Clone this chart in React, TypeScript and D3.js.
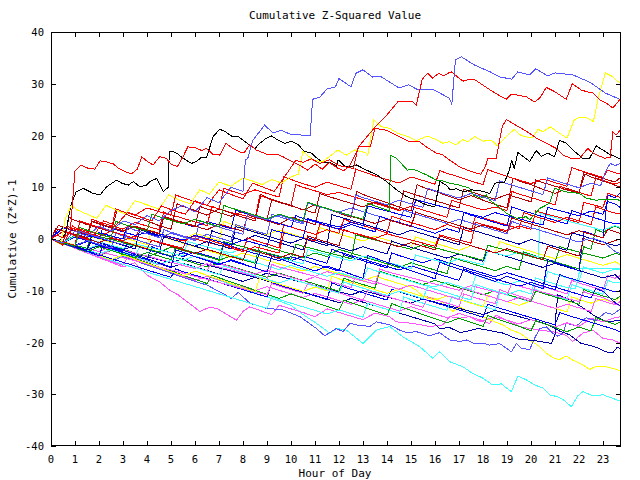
import React from "react";
import * as d3 from "d3";

// ---- axis ticks ----
const xTickValues = d3.range(0, 24);
const yTickValues = [-40, -30, -20, -10, 0, 10, 20, 30, 40];
const xDomain = [0, 23.75];
const yDomain = [-40, 40];

// ---- series: flat [hour, value, hour, value, ...] ----
const redTop = [0,0, 0.25,0.8, 0.5,0.2, 0.8,1.2, 1.0,13.2, 1.25,14.3, 1.53,13.7, 1.83,13.5, 2.04,15.1, 2.3,14.9, 2.6,14.5, 2.8,13.7, 3.1,13.0, 3.35,12.6, 3.6,13.5, 3.78,15.9, 4.04,14.9, 4.25,14.3, 4.53,15.9, 4.8,15.6, 5.02,14.4, 5.27,14.0, 5.5,15.9, 5.7,17.8, 6.0,17.7, 6.27,17.1, 6.48,17.5, 6.74,16.4, 7.03,16.2, 7.29,18.5, 7.58,17.5, 7.87,16.8, 8.05,16.7, 8.28,18.2, 8.55,17.2, 8.98,16.4, 9.4,16.4, 9.66,15.9, 10.07,14.9, 10.45,14.0, 10.7,13.3, 11.0,14.5, 11.3,13.5, 11.6,14.8, 11.9,13.8, 12.2,13.2, 12.45,14.2, 12.86,18.1, 13.5,21.6, 13.98,23.9, 14.45,26.5, 15.07,26.5, 15.22,25.9, 15.47,30.9, 15.7,32.0, 15.9,31.1, 16.15,32.0, 16.36,31.5, 16.57,32.1, 16.68,32.3, 16.89,31.5, 17.17,30.5, 17.44,30.9, 17.65,30.8, 17.98,29.8, 18.4,28.5, 18.76,27.5, 18.97,27.0, 19.18,28.0, 19.44,27.8, 19.8,27.5, 20.15,26.5, 20.36,27.2, 20.64,29.3, 20.98,28.5, 21.47,27.0, 21.72,30.0, 22.09,28.8, 22.3,28.5, 22.58,28.2, 22.86,26.9, 23.13,26.3, 23.41,25.3, 23.75,27.2];
const lightBlueTop = [0,0, 0.5,-0.8, 1,1.5, 1.5,0.5, 2,2.5, 2.5,1.5, 3,3.5, 3.5,2.8, 4,4.5, 4.5,3.5, 5,5.5, 5.5,6.5, 6,5.2, 6.5,8, 7,7, 7.5,10, 8,9.2, 8.1,15.3, 8.2,15.6, 8.4,19, 8.9,22, 9.25,20.5, 9.6,21, 10,20.2, 10.8,20, 10.9,27, 11.2,27.4, 11.5,29, 11.85,29.4, 12,31, 12.5,29.4, 12.7,32, 13,32.7, 13.4,31.3, 13.7,31.5, 14.5,29.2, 14.9,29.8, 15.3,28.8, 15.9,28.9, 16.2,28.2, 16.6,27.2, 16.7,26, 16.85,34.6, 17.1,35.2, 17.65,33.6, 18.3,32.3, 18.7,31.3, 19.2,30.9, 19.45,32.3, 19.95,31.7, 20.2,32.9, 20.7,31.5, 21,32.1, 21.75,31.7, 22.45,30.3, 23.1,28.2, 23.75,26.9];
const redSecond = [0,0, 0.5,-1.2, 0.9,2.5, 1.3,1.5, 1.8,0.8, 2.2,3.5, 2.7,2.6, 3.2,5.2, 3.7,4.3, 4.2,3.5, 4.6,6.4, 5.1,5.5, 5.6,4.8, 6.0,7.4, 6.5,6.5, 7.0,9.5, 7.5,8.6, 8.0,7.8, 8.4,10.8, 8.9,9.9, 9.3,9.2, 9.8,12.5, 10.2,15.2, 10.5,14.8, 10.85,15.5, 11.2,14.6, 11.6,15.3, 12.0,14.2, 12.3,13.9, 12.6,13.6, 12.8,17.8, 13.3,17.8, 13.5,21.4, 13.98,21, 14.4,20, 14.95,18.8, 15.36,18.8, 15.64,17.8, 16.05,16.6, 16.3,16.3, 16.6,15.3, 17.0,14.0, 17.4,13.2, 17.9,12.5, 18.1,14, 18.2,15.6, 18.55,15.6, 18.8,21.7, 18.97,23.1, 19.25,22.3, 19.6,21.4, 19.95,20.4, 20.22,19.5, 20.64,18.5, 21.05,17.5, 21.33,16.2, 21.67,15.6, 22.03,15.6, 22.37,17.5, 22.58,16.6, 23.06,15.6, 23.3,15.8, 23.41,20.7, 23.55,20.1, 23.75,21.2];
const yellowTop = [0,0, 0.4,-1, 0.6,4, 0.85,6.5, 1.1,5.6, 1.5,4.8, 1.9,4, 2.3,6.5, 2.7,5.6, 3.1,4.8, 3.5,7.4, 4,6.6, 4.5,5.8, 4.9,8.5, 5.3,7.6, 5.8,6.8, 6.2,9.5, 6.6,8.7, 7.0,11, 7.5,10.2, 8.0,11.8, 8.4,11.2, 8.8,10.5, 9.2,11.5, 9.6,10.8, 10.0,12.0, 10.3,12.5, 10.5,16.9, 10.9,15.3, 11.3,14.9, 11.6,15.9, 11.95,17.2, 12.3,16.2, 12.65,17.2, 13.1,16.7, 13.2,16.2, 13.45,23, 13.77,21.7, 14.1,21.4, 14.46,20.4, 14.87,19.8, 15.22,19, 15.43,19.4, 15.7,19.9, 16.05,19.2, 16.33,18.5, 16.6,18.8, 16.88,18.2, 17.15,19.2, 17.37,18.8, 17.65,19.8, 18.0,18.9, 18.35,19.1, 18.6,18, 18.9,19.5, 19.3,21.2, 19.58,20, 20.04,19.5, 20.3,21.2, 20.5,20.7, 20.8,21.7, 21.2,20.4, 21.5,19.5, 21.8,23, 22.0,23.5, 22.3,23.5, 22.6,22.7, 22.8,27.2, 23.1,32.1, 23.4,31.4, 23.6,30.5, 23.75,30.1];
const blackLine = [0,0, 0.3,-0.6, 0.6,1.0, 0.85,6.9, 1.05,9.1, 1.34,9.8, 1.76,8.8, 2.04,8.5, 2.32,10.1, 2.74,11.4, 2.94,10.8, 3.22,10.4, 3.43,11.1, 3.7,10.1, 3.98,10.4, 4.12,11.1, 4.4,11.7, 4.68,9.1, 4.88,10, 4.93,17, 5.02,17, 5.23,16.6, 5.51,15.6, 5.85,14.6, 6.07,15, 6.27,15.8, 6.48,15.8, 6.76,19.8, 7.03,21.2, 7.24,20.8, 7.52,19.9, 7.8,19.8, 8.0,19.1, 8.26,18.2, 8.5,17.5, 8.7,18.5, 8.98,19.5, 9.19,19.9, 9.46,19.1, 9.74,18.5, 10.02,18.9, 10.3,18.2, 10.57,16.9, 10.85,16.6, 11.06,15.7, 11.34,14.7, 11.62,14.8, 11.9,14.1, 11.96,15.3, 12.24,14.1, 12.45,13.9, 12.73,14.3, 13.15,13.3, 13.57,12.4, 13.98,11.1, 14.4,9.5, 14.81,8.2, 15.22,7.5, 15.64,6.6, 15.99,6.2, 16.2,11.1, 16.48,10.4, 16.62,9.5, 16.9,9.7, 17.2,9.1, 17.5,9.5, 17.9,9.3, 18.28,8.8, 18.35,9.5, 18.5,10.8, 18.9,11, 19.1,13.3, 19.2,15.3, 19.3,13.5, 19.45,16.7, 19.95,15, 20.22,17.1, 20.43,16, 20.7,16.6, 20.98,15.9, 21.19,19.1, 21.47,18.5, 21.74,17.2, 22.15,15.6, 22.44,15.6, 22.72,18, 22.99,17.2, 23.27,16.4, 23.75,15.4];
const greenTop = [0,0, 0.5,-0.7, 1,-1.4, 1.2,2.2, 1.5,1.7, 2,1, 2.5,0.3, 2.7,3.4, 3,2.9, 3.5,2.2, 4,1.5, 4.2,4.8, 4.5,4.3, 5,3.6, 5.5,2.9, 6,3.8, 6.5,3.1, 7,2.4, 7.2,6.5, 7.5,6, 8,5.3, 8.5,4.6, 9,3.9, 9.5,4.8, 10,4.1, 10.5,3.4, 10.7,7.1, 11,6.6, 11.5,5.9, 12,5.2, 12.5,4.5, 13,3.8, 13.2,6.9, 13.5,6.4, 14.1,5.4, 14.15,16.2, 14.4,15.6, 14.85,13.3, 15.1,13.5, 15.64,12.4, 16.05,11.4, 16.2,11.4, 16.6,10.8, 17.03,10.4, 17.45,9.8, 17.6,8.5, 17.9,7.9, 18.14,8.5, 18.28,7.5, 18.55,6.6, 18.97,5, 19.39,4, 19.8,4.3, 19.95,3.7, 20.36,5.9, 20.78,6.9, 20.98,9.8, 21.47,9.1, 22.02,8.8, 22.3,7.9, 22.72,7.5, 23.13,7.7, 23.75,7.5];
const red1 = [0,0, 0.5,-0.6, 1,-1.3, 1.2,3.5, 1.5,3, 2,2.3, 2.5,1.6, 2.7,5.8, 3,5.3, 3.5,4.6, 4,6, 4.5,5.3, 5,4.6, 5.2,8.5, 5.5,8, 6,7.2, 6.5,6.5, 7,5.8, 7.2,9.8, 7.5,9.3, 8,8.6, 8.5,9.5, 9,8.8, 9.5,8.1, 9.7,12, 10,11.5, 10.5,10.7, 11,10, 11.5,11, 12,10.3, 12.5,9.6, 12.7,13.5, 13,13, 13.5,12.2, 14,11.5, 14.5,10.8, 15,12, 15.5,11.3, 16,10.6, 16.2,13.2, 16.5,12.7, 17,12, 17.5,11.2, 18,10.5, 18.2,13.4, 18.5,12.9, 19,12.1, 19.5,11.4, 20,10.7, 20.5,11.6, 21,10.9, 21.5,10.2, 21.7,13.8, 22,13.3, 22.5,12.6, 23,11.9, 23.2,13.3, 23.5,12.8, 23.75,12.5];
const darkRed1 = [0,0, 0.5,-0.8, 0.75,4.2, 1,3.6, 1.5,2.8, 2,2.1, 2.5,1.4, 2.75,5.5, 3,5, 3.5,4.1, 4,3.5, 4.5,2.6, 5,1.9, 5.25,6.8, 5.5,6.3, 6,5.5, 6.5,4.6, 7,5.8, 7.5,5, 8,4.2, 8.5,3.5, 8.75,8.6, 9,8, 9.5,7.2, 10,6.5, 10.5,5.6, 11,6.6, 11.5,5.8, 12,5, 12.5,4.2, 12.75,9.2, 13,8.6, 13.5,7.8, 14,7, 14.5,6.2, 15,5.4, 15.25,10.5, 15.5,10, 16,9.2, 16.5,8.4, 17,7.6, 17.5,8.4, 18,7.5, 18.5,6.7, 19,6, 19.25,11.8, 19.5,11.2, 20,10.5, 20.5,9.6, 21,8.8, 21.5,9.8, 22,9, 22.25,12.5, 22.5,12, 23,11.2, 23.5,10.4, 23.75,10];
const red3 = [0,0, 0.5,1.5, 0.7,1.2, 1,0.6, 1.5,-0.1, 1.7,3.8, 2,3.3, 2.5,2.6, 3,1.9, 3.5,3.2, 4,2.5, 4.5,1.8, 4.7,5.2, 5,4.7, 5.5,4, 6,3.3, 6.5,2.6, 6.7,6.3, 7,5.8, 7.5,5.1, 8,4.6, 8.5,3.9, 8.7,8.4, 9,7.9, 9.5,7.1, 10,6.5, 10.2,10.5, 10.5,10, 11,9.3, 11.5,8.6, 12,9, 12.5,8.3, 13,7.6, 13.5,6.9, 14,6.2, 14.5,5.5, 15,6.3, 15.5,5.6, 16,4.9, 16.5,4.2, 16.7,7.5, 17,7, 17.5,6.3, 18,5.6, 18.5,6.2, 19,5.5, 19.2,9.2, 19.5,8.7, 20,8, 20.5,7.3, 21,6.6, 21.2,10.2, 21.5,9.7, 22,9, 22.5,8.3, 22.7,11.8, 23,11.3, 23.5,10.6, 23.75,11];
const blue5 = [0,0, 0.5,2.2, 1,1.5, 1.5,0.8, 2,0.1, 2.2,2.6, 2.5,2.1, 3,1.4, 3.5,0.7, 4,1.2, 4.5,0.5, 4.7,4.2, 5,3.7, 5.5,3, 6,2.3, 6.5,3.4, 7,2.7, 7.5,2, 7.7,5.6, 8,5.1, 8.5,4.4, 9,3.7, 9.5,3, 10,2.3, 10.2,4.5, 10.5,4, 11,3.3, 11.5,2.6, 12,1.9, 12.5,2.8, 13,2.1, 13.5,1.4, 13.7,4.4, 14,3.9, 14.5,3.2, 15,2.5, 15.5,1.8, 16,1.1, 16.5,2, 17,1.3, 17.2,5.1, 17.5,4.6, 18,3.9, 18.5,3.2, 19,2.5, 19.2,6.2, 19.5,5.7, 20,5, 20.5,4.3, 21,3.6, 21.5,2.9, 21.7,5.5, 22,5, 22.5,4.3, 23,3.6, 23.5,2.9, 23.75,3];
const darkRed2 = [0,0, 0.3,2.6, 0.5,2.3, 1,1.6, 1.5,0.9, 1.7,3.5, 2,3, 2.5,2.3, 3,1.6, 3.5,2.5, 4,1.8, 4.5,1.1, 4.7,4.4, 5,3.9, 5.5,3.2, 6,2.5, 6.5,1.8, 7,2.9, 7.5,2.2, 8,1.5, 8.2,4.7, 8.5,4.2, 9,3.5, 9.5,2.8, 10,4.2, 10.5,3.5, 11,2.8, 11.2,6.3, 11.5,5.8, 12,5.1, 12.5,4.4, 13,3.7, 13.5,3, 14,3.8, 14.5,3.1, 15,2.4, 15.2,5.2, 15.5,4.7, 16,4, 16.5,3.3, 17,2.6, 17.5,1.9, 18,2.7, 18.5,2, 19,1.3, 19.2,4.1, 19.5,3.6, 20,2.9, 20.5,2.2, 21,1.5, 21.5,0.8, 22,1.6, 22.5,0.9, 23,0.2, 23.2,1.9, 23.5,1.4, 23.75,1];
const lightBlue7 = [0,0, 0.5,-0.6, 1,-1.3, 1.5,-0.3, 2,-1, 2.5,-1.7, 2.7,1.1, 3,0.6, 3.5,-0.1, 4,-0.8, 4.5,-1.5, 4.7,1.8, 5,1.3, 5.5,0.6, 6,-0.1, 6.5,0.9, 7,0.2, 7.5,-0.5, 7.7,2.8, 8,2.3, 8.5,1.6, 9,0.9, 9.2,4.8, 9.5,4.3, 10,3.6, 10.5,2.9, 10.7,7.1, 11,6.6, 11.5,5.9, 12,5.2, 12.5,6, 13,5.3, 13.5,4.6, 14,3.9, 14.5,3.2, 14.7,5.6, 15,5.1, 15.5,4.4, 16,3.7, 16.5,3, 17,3.8, 17.5,3.1, 18,2.4, 18.5,1.7, 19,1, 19.2,3.4, 19.5,2.9, 20,2.2, 20.5,1.5, 21,0.8, 21.5,0.1, 22,-0.6, 22.5,0.2, 23,-0.5, 23.5,-2.4, 23.75,-2.9];
const red8 = [0,0, 0.5,-0.7, 0.7,2.4, 1,1.9, 1.5,1.2, 2,0.5, 2.5,1.5, 3,0.8, 3.5,0.1, 3.7,2.2, 4,1.7, 4.5,1, 5,0.3, 5.5,-0.4, 6,0.6, 6.5,-0.1, 7,-0.8, 7.5,-1.5, 8,-2.2, 8.2,0.2, 8.5,-0.3, 9,-1, 9.5,-1.7, 9.7,2.8, 10,2.3, 10.5,1.6, 11,0.9, 11.5,1.8, 12,1.1, 12.2,3.8, 12.5,3.3, 13,2.6, 13.5,1.9, 14,1.2, 14.2,4.4, 14.5,3.9, 15,3.2, 15.5,2.5, 16,1.8, 16.5,2.8, 17,2.1, 17.5,1.4, 17.7,4.6, 18,4.1, 18.5,3.4, 19,2.7, 19.5,2, 19.7,5.1, 20,4.6, 20.5,3.9, 21,3.2, 21.5,4.2, 22,3.5, 22.5,2.8, 22.7,6.2, 23,5.7, 23.5,5, 23.75,5];
const navy9 = [0,0, 0.5,-0.8, 1,-1.5, 1.5,-2.2, 1.7,-0.2, 2,-0.7, 2.5,-1.4, 3,-2.1, 3.5,-1.2, 4,-1.9, 4.5,-2.6, 4.7,0.5, 5,0, 5.5,-0.7, 6,-1.4, 6.5,-2.1, 6.7,1.6, 7,1.1, 7.5,0.4, 8,-0.3, 8.5,0.7, 9,0, 9.5,-0.7, 10,-1.4, 10.5,-2.1, 10.7,0.3, 11,-0.2, 11.5,-0.9, 12,-1.6, 12.5,-2.3, 13,-1.5, 13.5,-2.2, 14,-2.9, 14.2,-0.4, 14.5,-0.9, 15,-1.6, 15.5,-2.3, 16,-3, 16.5,-3.7, 17,-2.9, 17.5,-3.6, 18,-4.3, 18.2,-2.2, 18.5,-2.7, 19,-3.4, 19.5,-4.1, 20,-4.8, 20.5,-5.5, 21,-4.7, 21.5,-5.4, 22,-6.1, 22.5,-6.8, 23,-7.5, 23.5,-6.9, 23.75,-8];
const yellow10 = [0,0, 0.5,-0.5, 1,-1.2, 1.2,1.2, 1.5,0.7, 2,0, 2.5,-0.7, 3,0.3, 3.5,-0.4, 4,-1.1, 4.2,1.6, 4.5,1.1, 5,0.4, 5.5,-0.3, 6,1.1, 6.5,0.4, 7,-0.3, 7.2,3.4, 7.5,2.9, 8,2.2, 8.5,1.5, 9,0.8, 9.5,1.7, 10,1, 10.5,0.3, 11,-0.4, 11.2,2.2, 11.5,1.7, 12,1, 12.5,0.3, 13,-0.4, 13.5,0.5, 14,-0.2, 14.5,-0.9, 15,-1.6, 15.2,0.4, 15.5,-0.1, 16,-0.8, 16.5,-1.5, 17,-2.2, 17.5,-1.3, 18,-2, 18.5,-2.7, 18.7,-0.5, 19,-1, 19.5,-1.7, 20,-2.4, 20.5,-3.1, 21,-3.8, 21.5,-3, 22,-3.7, 22.5,-4.4, 23,-5.1, 23.5,-4.4, 23.75,-5];
const green11 = [0,0, 0.5,-0.9, 1,-1.7, 1.5,-2.5, 2,-1.5, 2.5,-2.2, 3,-2.9, 3.5,-3.6, 4,-2.6, 4.5,-3.3, 5,-4, 5.2,-1.5, 5.5,-2, 6,-2.7, 6.5,-3.4, 7,-4.1, 7.5,-3.3, 8,-4, 8.5,-4.7, 8.7,-1, 9,-1.5, 9.5,-2.2, 10,-2.9, 10.5,-3.6, 11,-2.7, 11.5,-3.4, 12,-2, 12.5,-2.7, 13,-3.4, 13.5,-4.1, 14,-4.8, 14.5,-5.5, 15,-4.6, 15.5,-5.3, 16,-6, 16.5,-6.7, 16.7,-3.5, 17,-4, 17.5,-4.7, 18,-5.4, 18.5,-6.1, 19,-5.3, 19.5,-6, 19.7,-2.5, 20,-3, 20.5,-3.7, 21,-4.4, 21.5,-5.1, 22,-5.8, 22.2,-1.5, 22.5,-2, 22.7,1.8, 23,1.3, 23.5,2.5, 23.75,2];
const blue12 = [0,0, 0.5,-0.7, 1,0.4, 1.5,-0.3, 2,-1, 2.5,-1.7, 3,-2.4, 3.2,-0.8, 3.5,-1.3, 4,-2, 4.5,-2.7, 5,-3.4, 5.5,-2.7, 6,-3.4, 6.5,-4.1, 7,-4.8, 7.5,-4.2, 8,-4.9, 8.5,-5.6, 8.7,-2.3, 9,-2.8, 9.5,-3.5, 10,-4.2, 10.5,-3.3, 11,-4, 11.5,-4.7, 11.7,-2, 12,-2.5, 12.5,-3.2, 13,-3.9, 13.5,-4.6, 14,-5.3, 14.5,-6, 15,-5.2, 15.5,-5.9, 16,-6.6, 16.5,-7.3, 17,-8, 17.2,-5.8, 17.5,-6.3, 18,-7, 18.5,-7.7, 19,-8.4, 19.5,-9.1, 20,-8.4, 20.5,-9.1, 21,-9.8, 21.2,-6.9, 21.5,-7.4, 22,-8.1, 22.5,-8.8, 23,-9.5, 23.5,-10.2, 23.75,-10];
const cyan13 = [0,0, 0.5,-0.6, 1,-1.2, 1.5,-1.9, 2,-1.1, 2.5,-1.8, 3,-2.5, 3.5,-3.2, 3.7,-1.5, 4,-2, 4.5,-2.7, 5,-3.4, 5.5,-4.1, 6,-3.3, 6.5,-4, 7,-4.7, 7.2,-2.6, 7.5,-3.1, 8,-3.8, 8.5,-4.5, 9,-5.2, 9.5,-5.9, 10,-5.1, 10.5,-5.8, 11,-6.5, 11.5,-7.2, 12,-6.5, 12.5,-7.2, 13,-7.9, 13.2,-5.6, 13.5,-6.1, 14,-6.8, 14.5,-7.5, 15,-8.2, 15.5,-8.9, 16,-9.2, 16.5,-8.4, 17,-9.1, 17.5,-9.8, 17.7,-7, 18,-7.5, 18.5,-8.2, 19,-8.9, 19.5,-8.1, 20,-8.8, 20.5,-9.5, 20.7,-6.3, 21,-6.8, 21.5,-7.5, 22,-8.2, 22.2,-5.4, 22.5,-5.9, 23,-6.6, 23.5,-5.8, 23.75,-6];
const magenta14 = [0,0, 0.5,-0.8, 1,-1.6, 1.5,-2.4, 2,-3.1, 2.5,-2.2, 3,-2.9, 3.5,-3.6, 4,-4.3, 4.5,-5, 5,-4.1, 5.5,-4.8, 6,-5.5, 6.5,-6.2, 6.7,-4.2, 7,-4.7, 7.5,-5.4, 8,-6.1, 8.5,-6.8, 9,-6, 9.5,-6.7, 10,-7.4, 10.5,-8.1, 11,-7.3, 11.5,-8, 12,-8.7, 12.5,-9.4, 12.7,-7.1, 13,-7.6, 13.5,-8.3, 14,-9, 14.5,-9.7, 15,-8.9, 15.5,-9.6, 16,-10.3, 16.5,-11, 17,-11.7, 17.2,-9.5, 17.5,-10, 18,-10.7, 18.5,-11.4, 19,-12.1, 19.5,-11.3, 20,-12, 20.5,-12.7, 21,-13.4, 21.5,-12.6, 22,-13.3, 22.5,-14, 22.7,-11.5, 23,-12, 23.5,-12.7, 23.75,-12];
const blue15 = [0,0, 0.5,-0.7, 1,-1.4, 1.5,-0.5, 2,-1.2, 2.5,-1.9, 3,-2.6, 3.5,-3.3, 4,-4, 4.2,-1.5, 4.5,-2, 5,-2.7, 5.5,-3.4, 6,-2.5, 6.5,-3.2, 7,-3.9, 7.2,-0.9, 7.5,-1.4, 8,-2.1, 8.5,-2.8, 9,-3.5, 9.5,-4.2, 10,-3.4, 10.5,-4.1, 11,-4.8, 11.5,-5.5, 12,-6.2, 12.2,-3, 12.5,-3.5, 13,-4.2, 13.5,-4.9, 14,-5.6, 14.2,-2.7, 14.5,-3.2, 15,-3.9, 15.5,-4.6, 16,-3.8, 16.5,-4.5, 17,-5.2, 17.5,-5.9, 18,-6.6, 18.5,-7.3, 19,-6.5, 19.5,-7.2, 20,-7.9, 20.5,-8.6, 21,-9.3, 21.5,-10, 22,-10.7, 22.5,-11.4, 22.7,-9.6, 23,-10.1, 23.5,-12.3, 23.75,-13];
const darkRed16 = [0,0, 0.5,1.4, 1,0.7, 1.5,0, 2,-0.7, 2.5,0.2, 3,-0.5, 3.5,-1.2, 4,-1.9, 4.2,-0.2, 4.5,-0.7, 5,-1.4, 5.5,-2.1, 6,-2.8, 6.5,-2, 7,-2.7, 7.5,-3.4, 8,-4.1, 8.2,-1.8, 8.5,-2.3, 9,-3, 9.5,-3.7, 10,-2.8, 10.5,-3.5, 10.7,0.6, 11,0.1, 11.5,-0.6, 12,-1.3, 12.2,1.8, 12.5,1.3, 13,0.6, 13.5,-0.1, 14,-0.8, 14.5,-1.5, 15,-0.7, 15.5,-1.4, 16,-2.1, 16.2,0.6, 16.5,0.1, 17,-0.6, 17.5,-1.3, 18,-2, 18.5,-2.7, 19,-1.9, 19.5,-2.6, 20,-3.3, 20.5,-4, 20.7,-1.4, 21,-1.9, 21.5,-2.6, 22,-3.3, 22.2,0.1, 22.5,-0.4, 23,-1.1, 23.5,-0.3, 23.75,0];
const cyanFlat = [0,0, 0.5,-0.7, 1,-1.4, 1.5,-2.1, 2,-2.8, 2.5,-2.1, 3,-2.8, 3.5,-3.5, 4,-4.2, 4.5,-4.9, 5,-4.1, 5.5,-4.8, 6,-5.5, 6.5,-6.2, 7,-6.9, 7.2,-5.2, 7.5,-5.7, 8,-6.4, 8.5,-7.1, 9,-7.8, 9.5,-8.5, 10,-7.7, 10.5,-8.4, 11,-9.1, 11.5,-9.8, 12,-10.5, 12.2,-8.3, 12.5,-8.8, 13,-9.5, 13.5,-10.2, 14,-10.9, 14.5,-10.1, 15,-10.8, 15.5,-11.5, 15.7,-9.2, 16,-9.7, 16.5,-10.4, 17,-11.1, 17.5,-11.8, 17.7,-8.8, 18,-9.3, 18.5,-10, 19,-10.7, 19.5,-9.9, 20,-10.6, 20.2,-7.5, 20.5,-8, 21,-8.7, 21.5,-9.4, 21.85,-9.6, 22.05,-5.7, 23.75,-5.7];
const magenta18 = [0,0, 0.5,-0.9, 1,-1.8, 1.5,-2.7, 2,-3.5, 2.5,-4.3, 3,-5.1, 3.2,-3.5, 3.5,-4, 4,-4.8, 4.5,-5.6, 5,-6.4, 5.5,-7.2, 6,-8, 6.5,-7.2, 7,-7.9, 7.5,-8.6, 8,-9.3, 8.5,-10, 9,-9.2, 9.5,-9.9, 10,-10.6, 10.5,-11.3, 11,-10.5, 11.5,-11.2, 12,-11.9, 12.5,-12.6, 13,-11.8, 13.5,-12.5, 14,-13.2, 14.5,-13.9, 15,-13.1, 15.5,-13.8, 16,-14.5, 16.5,-15.2, 17,-14.4, 17.5,-15.1, 18,-15.8, 18.5,-15, 19,-15.7, 19.5,-16.4, 20,-15.6, 20.5,-16.3, 21,-17, 21.5,-16.2, 22,-16.9, 22.5,-15.3, 23,-16, 23.5,-15.2, 23.75,-15];
const green19 = [0,0, 0.5,-0.7, 1,0.8, 1.5,0.1, 2,-0.6, 2.5,-1.3, 3,-2, 3.5,-2.7, 4,-3.4, 4.5,-2.6, 5,-3.3, 5.5,-4, 6,-4.7, 6.5,-5.4, 7,-4.6, 7.5,-5.3, 8,-6, 8.5,-6.7, 9,-7.4, 9.5,-6.6, 10,-7.3, 10.5,-8, 11,-8.7, 11.5,-9.4, 12,-10.1, 12.2,-7.6, 12.5,-8.1, 13,-8.8, 13.5,-9.5, 13.7,-6.2, 14,-6.7, 14.5,-7.4, 15,-8.1, 15.5,-8.8, 16,-8, 16.5,-8.7, 17,-9.4, 17.5,-10.1, 18,-10.8, 18.5,-10, 19,-10.7, 19.5,-11.4, 20,-12.1, 20.2,-10, 20.5,-10.5, 21,-11.2, 21.5,-11.9, 22,-12.6, 22.2,-9.8, 22.5,-10.3, 23,-11, 23.5,-11.7, 23.75,-11];
const yellow20 = [0,0, 0.5,-0.8, 1,-1.6, 1.5,-2.4, 2,-3.2, 2.5,-4, 3,-3.1, 3.5,-3.9, 4,-4.7, 4.5,-5.5, 5,-6.3, 5.5,-7.1, 6,-6.2, 6.5,-7, 7,-7.8, 7.5,-8.6, 8,-9.4, 8.5,-10.2, 8.7,-7.5, 9,-8, 9.5,-8.7, 10,-9.4, 10.5,-10.1, 11,-9.3, 11.5,-10, 11.7,-7.2, 12,-7.7, 12.5,-8.4, 13,-9.1, 13.5,-9.8, 14,-10.5, 14.5,-9.7, 15,-10.4, 15.5,-11.1, 16,-11.8, 16.5,-11, 17,-11.7, 17.5,-12.4, 18,-13.1, 18.2,-10.9, 18.5,-11.4, 19,-12.1, 19.5,-12.8, 20,-12, 20.5,-12.7, 21,-13.4, 21.5,-14.1, 21.7,-11.2, 22,-11.7, 22.5,-12.4, 23,-11.6, 23.5,-12.3, 23.75,-10.7];
const navyLow = [0,0, 0.5,-0.7, 1,-1.4, 1.5,-2.1, 2,-1.3, 2.5,-2, 3,-2.7, 3.5,-3.4, 4,-4.1, 4.5,-4.8, 5,-5.5, 5.5,-4.7, 6,-5.4, 6.5,-6.1, 7,-6.8, 7.5,-7.5, 8,-8.2, 8.5,-7.4, 9,-8.1, 9.5,-8.8, 10,-9.5, 10.5,-10.2, 11,-10.9, 11.5,-11.6, 12,-12.3, 12.5,-11.5, 13,-12.2, 13.5,-12.9, 14,-13.6, 14.5,-14.3, 15,-15, 15.5,-15.7, 16,-16.4, 16.2,-17.3, 16.6,-17.1, 17.05,-18.1, 17.35,-17.8, 17.8,-17.3, 18.2,-17.6, 18.85,-18.2, 19.25,-19, 19.5,-19.4, 19.85,-19.5, 20.4,-19.8, 20.85,-20.2, 21.0,-18.5, 21.05,-13.7, 21.12,-10.8, 21.65,-11.8, 22.2,-13.4, 22.6,-14.7, 23.15,-16, 23.75,-15.7];
const lightBlueLow = [0,0, 0.5,-0.9, 1,-1.8, 1.5,-2.7, 2,-3.5, 2.5,-4.3, 3,-3.4, 3.5,-4.2, 4,-5, 4.5,-5.8, 5,-6.6, 5.5,-7.4, 6,-8.2, 6.5,-8.9, 6.9,-9.9, 7.2,-10.6, 7.52,-11.5, 7.8,-10.3, 8.28,-12.4, 8.98,-13.4, 9.67,-13.7, 10.37,-15, 11.06,-17.3, 11.4,-18.7, 11.89,-17.3, 12.17,-17.9, 12.45,-16.3, 12.73,-16.6, 13.28,-16.9, 13.56,-16, 14.11,-16.6, 14.53,-17.6, 14.81,-18.1, 15.22,-17.9, 15.78,-18.7, 16.19,-18.1, 16.61,-19.5, 17.03,-19.8, 17.3,-19.5, 17.65,-20.2, 18,-20.1, 18.28,-20.5, 18.69,-20.2, 18.97,-21.1, 19.18,-21.8, 19.39,-20.2, 19.6,-21.1, 19.94,-21.4, 20.15,-19.2, 20.36,-17.3, 20.64,-17, 20.91,-18.2, 21.12,-18.8, 21.33,-18.2, 21.47,-16.3, 21.9,-16.8, 22.3,-15.2, 22.7,-15.8, 23.1,-14.2, 23.4,-14.6, 23.75,-13.4];
const blue23 = [0,0, 0.5,-0.8, 1,-1.6, 1.5,-2.3, 2,-3, 2.5,-3.8, 3,-4.5, 3.5,-5.2, 4,-6, 4.5,-6.7, 5,-7.4, 5.2,-5.8, 5.5,-6.3, 6,-7, 6.5,-7.7, 7,-8.4, 7.5,-9.1, 8,-9.8, 8.5,-10.5, 9,-11.2, 9.2,-8.4, 9.5,-8.9, 10,-9.6, 10.5,-10.3, 11,-11, 11.5,-11.7, 11.7,-8.5, 12,-9, 12.5,-9.7, 13,-10.4, 13.5,-11.1, 14,-11.8, 14.2,-9.7, 14.5,-10.2, 15,-10.9, 15.5,-11.6, 16,-12.3, 16.5,-13, 17,-13.7, 17.5,-14.4, 18,-15.1, 18.2,-12.6, 18.5,-13.1, 19,-13.8, 19.5,-14.5, 20,-15.2, 20.5,-15.9, 21,-16.6, 21.2,-14.2, 21.5,-14.7, 22,-15.4, 22.5,-16.1, 23,-16.8, 23.5,-17.5, 23.75,-18];
const cyan24 = [0,0, 0.5,-0.9, 1,-1.7, 1.5,-2.5, 2,-3.3, 2.5,-4.1, 3,-4.9, 3.5,-5.6, 4,-6.4, 4.5,-7.1, 5,-7.8, 5.5,-8.5, 6,-9.2, 6.5,-9.9, 7,-10.6, 7.5,-11.3, 8,-12, 8.5,-12.7, 9,-13.4, 9.2,-11.2, 9.5,-11.7, 10,-12.4, 10.5,-13.1, 11,-13.8, 11.5,-14.5, 12,-13.7, 12.5,-14.4, 13,-15.1, 13.2,-12.4, 13.5,-12.9, 14,-13.6, 14.5,-14.3, 14.7,-11.2, 15,-11.7, 15.5,-12.4, 16,-13.1, 16.5,-13.8, 16.7,-11.1, 17,-11.6, 17.5,-12.3, 18,-13, 18.5,-13.7, 18.7,-10.3, 19,-10.8, 19.5,-11.5, 20,-12.2, 20.2,-9.8, 20.5,-10.3, 21,-11, 21.5,-11.7, 21.7,-8.8, 22,-9.3, 22.5,-10, 23,-10.7, 23.2,-8, 23.5,-8.5, 23.75,-8.3];
const magenta25 = [0,0, 0.5,-0.6, 1,-1.2, 1.5,-1.8, 2,-2.4, 2.5,-3, 3,-3.6, 3.5,-4.2, 4,-4.8, 4.5,-5.4, 5,-6, 5.5,-6.6, 6,-7.2, 6.5,-7.8, 7,-8.4, 7.5,-9, 8,-9.6, 8.5,-10.2, 9,-10.8, 9.2,-8.6, 9.5,-9.1, 10,-9.8, 10.5,-10.5, 10.7,-8.5, 11,-9, 11.5,-9.7, 12,-10.4, 12.5,-11.1, 13,-11.8, 13.2,-9.9, 13.5,-10.4, 14,-11.1, 14.5,-11.8, 15,-12.5, 15.5,-13.2, 15.7,-11.2, 16,-11.7, 16.5,-12.4, 17,-13.1, 17.2,-10.6, 17.5,-11.1, 18,-11.8, 18.5,-12.5, 18.7,-9.8, 19,-10.3, 19.5,-11, 20,-11.7, 20.2,-8.7, 20.5,-9.2, 21,-9.9, 21.5,-10.6, 21.7,-8, 22,-8.5, 22.5,-9.2, 23,-9.9, 23.2,-7.1, 23.5,-7.6, 23.75,-7];
const green26 = [0,0, 0.5,-0.8, 1,-1.6, 1.5,-2.4, 2,-3.2, 2.5,-2.2, 3,-3, 3.5,-3.8, 4,-4.6, 4.5,-5.4, 5,-6.2, 5.5,-7, 6,-7.8, 6.5,-8.6, 6.7,-7, 7,-7.5, 7.5,-8.3, 8,-9.1, 8.5,-9.9, 9,-10.7, 9.5,-11.5, 10,-10.6, 10.5,-11.4, 11,-12.2, 11.5,-13, 12,-13.8, 12.2,-11.8, 12.5,-12.3, 13,-13.1, 13.5,-13.9, 14,-14.7, 14.2,-12.5, 14.5,-13, 15,-13.8, 15.5,-14.6, 16,-15.4, 16.5,-16.2, 17,-15.3, 17.5,-16.1, 18,-16.9, 18.2,-14.8, 18.5,-15.3, 19,-16.1, 19.5,-16.9, 20,-17.7, 20.2,-15.8, 20.5,-16.3, 21,-17.1, 21.5,-17.9, 22,-17, 22.5,-17.8, 22.7,-15.2, 23,-15.7, 23.5,-16.5, 23.75,-16];
const red27 = [0,0, 0.5,-0.6, 1,-1.2, 1.2,1.9, 1.5,1.5, 2,0.9, 2.5,0.3, 3,-0.3, 3.5,0.6, 4,0, 4.5,-0.6, 5,-1.2, 5.5,-1.8, 5.7,0.4, 6,0, 6.5,-0.6, 7,-1.2, 7.5,-1.8, 8,-2.4, 8.5,-1.5, 9,-2.1, 9.5,-2.7, 9.7,1.2, 10,0.8, 10.5,0.2, 11,-0.4, 11.2,2.9, 11.5,2.5, 12,1.9, 12.5,1.3, 13,0.7, 13.5,0.1, 14,1, 14.5,0.4, 15,-0.2, 15.5,-0.8, 16,-1.4, 16.2,0.8, 16.5,0.4, 17,-0.2, 17.5,-0.8, 17.7,3.2, 18,2.8, 18.5,2.2, 19,1.6, 19.5,2.5, 20,1.9, 20.2,5.4, 20.5,5, 21,4.4, 21.5,3.8, 22,3.2, 22.2,7.1, 22.5,6.7, 23,6.1, 23.2,8.8, 23.5,8.4, 23.75,8];
const blue28 = [0,0, 0.3,1.8, 0.5,1.5, 1,0.9, 1.5,0.3, 2,1.2, 2.5,0.6, 3,0, 3.2,2.6, 3.5,2.2, 4,1.6, 4.5,1, 5,0.4, 5.5,-0.2, 6,0.7, 6.5,0.1, 7,-0.5, 7.5,-1.1, 8,-0.2, 8.5,-0.8, 9,-1.4, 9.2,1.8, 9.5,1.4, 10,0.8, 10.5,0.2, 10.7,3.9, 11,3.5, 11.5,2.9, 12,2.3, 12.5,3.2, 13,2.6, 13.2,6.4, 13.5,6, 14,5.4, 14.5,4.8, 15,4.2, 15.2,7.6, 15.5,7.2, 16,6.6, 16.5,6, 17,5.4, 17.5,4.8, 18,4.2, 18.5,5.1, 19,4.5, 19.5,3.9, 20,3.3, 20.5,2.7, 20.7,6.1, 21,5.7, 21.5,5.1, 22,4.5, 22.5,5.4, 23,4.8, 23.2,7.2, 23.5,6.8, 23.75,6];
const magenta29 = [0,0, 0.5,-0.6, 1,-1.2, 1.5,-1.8, 2,-2.4, 2.5,-1.5, 3,-2.1, 3.5,-2.7, 4,-3.3, 4.5,-3.9, 5,-4.5, 5.5,-5.1, 6,-5.7, 6.5,-4.8, 7,-5.4, 7.5,-6, 8,-6.6, 8.5,-7.2, 9,-7.8, 9.2,-4.9, 9.5,-5.4, 10,-6, 10.5,-6.6, 11,-7.2, 11.5,-6.3, 12,-6.9, 12.5,-7.5, 13,-8.1, 13.5,-8.7, 13.7,-5.8, 14,-6.3, 14.5,-6.9, 15,-7.5, 15.5,-8.1, 16,-8.7, 16.5,-9.3, 17,-9.9, 17.5,-9, 18,-9.6, 18.5,-10.2, 19,-10.8, 19.2,-8.6, 19.5,-9.1, 20,-9.7, 20.5,-10.3, 21,-10.9, 21.5,-11.5, 22,-12.1, 22.2,-10.2, 22.5,-10.7, 23,-11.3, 23.5,-12.5, 23.75,-13];
const yellowLow = [0,0, 0.5,-0.7, 1,-1.4, 1.5,-2.1, 1.7,1.5, 2,1, 2.5,0.3, 3,-0.4, 3.5,-1.1, 4,-1.8, 4.5,-2.5, 4.7,0.4, 5,-0.1, 5.5,-0.8, 6,-1.5, 6.5,-2.2, 7,-2.9, 7.5,-3.6, 8,-2.7, 8.5,-3.4, 9,-4.1, 9.5,-4.8, 10,-5.5, 10.5,-6.2, 11,-5.3, 11.5,-6, 12,-6.7, 12.5,-7.4, 13,-8.1, 13.5,-7.2, 14,-7.9, 14.5,-8.6, 15,-9.3, 15.22,-9.9, 15.5,-11.1, 16.06,-11.5, 16.33,-12.4, 16.75,-14, 17.03,-13.1, 17.58,-14.4, 18.14,-15.3, 18.48,-16, 18.83,-16.6, 19.18,-17.6, 19.53,-18.2, 19.94,-19.5, 20.36,-20.8, 20.64,-22.1, 20.98,-23.1, 21.19,-23.3, 21.47,-22.6, 21.74,-23.4, 22.16,-24.3, 22.44,-25.2, 22.72,-24.6, 23.06,-24.6, 23.41,-25, 23.75,-25.5];
const cyanLow = [0,0, 0.5,-0.8, 1,-1.6, 1.5,-2.4, 2,-3.2, 2.5,-4, 3,-3.2, 3.5,-4, 4,-4.8, 4.5,-5.6, 5,-6.4, 5.5,-7.2, 6,-8, 6.5,-7.2, 7,-8, 7.5,-8.8, 8,-9.6, 8.5,-10.4, 9,-11.2, 9.5,-12, 10,-12.8, 10.5,-14.6, 11.06,-16.3, 11.62,-18.2, 11.9,-17.3, 12.31,-17.6, 13.0,-20.2, 13.56,-17.6, 14.11,-16.9, 14.66,-18.9, 15.36,-20.8, 15.9,-23, 16.19,-21.8, 16.61,-23.7, 17.17,-24.7, 17.58,-26, 18,-26.9, 18.4,-28.2, 18.76,-28, 19.18,-29.5, 19.45,-26.5, 19.8,-27.2, 20.15,-28.2, 20.5,-28.8, 20.77,-30.1, 21.12,-30.5, 21.33,-31, 21.68,-32.4, 21.95,-30.3, 22.16,-29.5, 22.58,-30.3, 23.0,-30.1, 23.41,-30.8, 23.75,-31.4];
const magentaLow = [0,0, 0.5,-0.9, 1,-1.8, 1.5,-2.7, 2,-3.6, 2.5,-4.5, 3,-5.4, 3.5,-4.6, 4,-7, 4.5,-8.2, 4.95,-9.9, 5.3,-10.8, 5.7,-12.2, 6.2,-14, 6.6,-13.2, 6.9,-13.4, 7.3,-14.5, 7.73,-15.7, 8.0,-14, 8.28,-13.1, 8.7,-13.8, 9.2,-14.6, 9.5,-12.8, 10,-13.5, 10.5,-14.2, 11,-15, 11.5,-13.5, 12,-14.2, 12.5,-14.9, 13,-15.6, 13.5,-14.3, 14.1,-15, 14.38,-16, 15.07,-16.3, 15.78,-16.9, 16.33,-16.6, 16.61,-15, 17.03,-15.3, 17.44,-15, 17.72,-15.7, 18.28,-16.3, 18.55,-14.7, 18.97,-15.7, 19.53,-16.9, 19.94,-17.3, 20.36,-17.6, 20.91,-17.9, 21.47,-18.6, 21.74,-19.8, 22.16,-18.2, 22.58,-17.6, 22.99,-19.2, 23.41,-19.5, 23.75,-20.2];
const navyMid = [0,0, 0.5,-0.6, 1,-1.2, 1.5,-0.4, 2,-1, 2.5,-1.6, 3,-2.2, 3.5,-2.8, 4,-3.4, 4.5,-4, 5,-4.6, 5.5,-3.8, 6,-4.4, 6.5,-5, 7,-5.6, 7.5,-6.2, 8,-6.8, 8.5,-7.4, 9,-6.6, 9.5,-7.2, 10,-7.8, 10.5,-8.4, 11,-9, 11.5,-9.6, 12,-10.2, 12.5,-10.8, 13,-10, 13.5,-10.6, 14,-11.2, 14.5,-11.8, 15,-12.4, 15.5,-11.6, 16,-12.2, 16.5,-12.8, 17,-13.4, 17.5,-14, 18,-14.6, 18.5,-13.8, 19,-14.4, 19.5,-15, 20,-15.6, 20.5,-16.2, 20.8,-16.8, 21.2,-17.8, 21.6,-18.5, 22.1,-20.2, 22.5,-20.6, 22.8,-21.1, 23.1,-21.8, 23.4,-22, 23.6,-20.9, 23.75,-21.3];
const lightBlueUpper = [0,0, 0.5,-0.7, 1,-1.4, 1.2,1.5, 1.5,1, 2,0.3, 2.5,-0.4, 3,-1.1, 3.2,2.2, 3.5,1.7, 4,1, 4.5,0.3, 5,1.1, 5.5,0.4, 6,-0.3, 6.2,3.5, 6.5,3, 7,2.3, 7.5,1.6, 8,0.9, 8.2,4.9, 8.5,4.4, 9,3.7, 9.5,4.6, 10,3.9, 10.5,3.2, 10.7,7, 11,6.5, 11.5,5.8, 12,5.1, 12.5,4.4, 12.7,8.5, 13,8, 13.5,7.3, 14,6.6, 14.5,7.5, 15,6.8, 15.5,6.1, 15.7,9.8, 16,9.3, 16.5,8.6, 17,7.9, 17.5,8.8, 18,8.1, 18.5,7.4, 18.7,11.2, 19,10.7, 19.5,10, 20,9.3, 20.5,8.6, 20.7,11.8, 21,11.3, 21.5,10.6, 22,9.9, 22.5,10.8, 22.9,10.3, 23.1,13, 23.3,14.6, 23.5,14.2, 23.75,14.6];
const darkRed35 = [0,0, 0.2,2, 0.5,1.6, 1,0.9, 1.5,0.2, 1.7,3.4, 2,2.9, 2.5,2.2, 3,1.5, 3.5,2.4, 4,1.7, 4.5,1, 4.7,4.3, 5,3.8, 5.5,3.1, 6,2.4, 6.2,6.3, 6.5,5.8, 7,5.1, 7.5,4.4, 8,5.3, 8.5,4.6, 9,3.9, 9.2,7.6, 9.5,7.1, 10,6.4, 10.5,5.7, 11,5, 11.2,8.8, 11.5,8.3, 12,7.6, 12.5,6.9, 13,6.2, 13.5,7.1, 14,6.4, 14.5,5.7, 14.7,9.3, 15,8.8, 15.5,8.1, 16,7.4, 16.5,6.7, 17,6, 17.2,9.6, 17.5,9.1, 18,8.4, 18.5,7.7, 19,8.6, 19.5,7.9, 20,7.2, 20.2,11.4, 20.5,10.9, 21,10.2, 21.5,9.5, 22,8.8, 22.2,12.9, 22.5,12.4, 23,11.7, 23.5,11, 23.75,12];
const green37 = [0,0, 0.5,-0.6, 1,-1.2, 1.5,-1.8, 1.7,0.9, 2,0.5, 2.5,-0.1, 3,-0.7, 3.5,-1.3, 4,-1.9, 4.5,-2.5, 5,-1.6, 5.5,-2.2, 6,-2.8, 6.5,-3.4, 7,-4, 7.2,-0.5, 7.5,-0.9, 8,-1.5, 8.5,-2.1, 9,-2.7, 9.5,-3.3, 10,-3.9, 10.2,-1, 10.5,-1.4, 11,-2, 11.5,-2.6, 12,-3.2, 12.5,-3.8, 12.7,0.8, 13,0.4, 13.5,-0.2, 14,-0.8, 14.5,-1.4, 15,-2, 15.5,-1.1, 16,-1.7, 16.5,-2.3, 17,-2.9, 17.5,-3.5, 18,-4.1, 18.2,-1.2, 18.5,-1.6, 19,-2.2, 19.5,-2.8, 20,-3.4, 20.5,-4, 21,-4.6, 21.2,-1.5, 21.5,-1.9, 22,-2.5, 22.5,-3.1, 23,-3.7, 23.5,-2.8, 23.75,-3];
const cyanJump = [0,0, 0.5,-0.7, 1,0.6, 1.5,0, 2,-0.6, 2.5,-1.2, 3,-1.8, 3.5,-0.9, 4,-1.5, 4.5,-2.1, 5,-2.7, 5.5,-3.3, 5.7,-0.5, 6,-0.9, 6.5,-1.5, 7,-2.1, 7.5,-2.7, 8,-1.8, 8.5,-2.4, 9,-3, 9.5,-3.6, 10,-4.2, 10.5,-4.8, 10.7,-2, 11,-2.4, 11.5,-3, 12,-3.6, 12.5,-4.2, 13,-3.3, 13.5,-3.9, 14,-4.5, 14.5,-5.1, 15,-5.7, 15.2,-3.1, 15.5,-3.5, 16,-4.1, 16.5,-4.7, 17,-3.8, 17.5,-4.4, 18,-5, 18.2,-2.3, 18.5,-2.7, 19,-3.3, 19.5,-2.5, 20,-3.1, 20.3,-3.5, 20.4,5, 20.8,4.4, 21.2,3.9, 21.5,3.5, 22,2.9, 22.5,2.3, 23,1.7, 23.5,2.6, 23.75,2.2];
const navy39 = [0,0, 0.5,-0.7, 1,-1.4, 1.5,-2.1, 1.7,0.6, 2,0.2, 2.5,-0.5, 3,-1.2, 3.5,-1.9, 3.7,1.8, 4,1.4, 4.5,0.7, 5,0, 5.5,-0.7, 6,-1.4, 6.5,-0.5, 7,-1.2, 7.5,-1.9, 7.7,2.4, 8,2, 8.5,1.3, 9,0.6, 9.5,-0.1, 10,-0.8, 10.5,0.1, 11,-0.6, 11.5,-1.3, 11.7,4.7, 12,4.3, 12.5,3.6, 13,2.9, 13.5,2.2, 14,1.5, 14.5,0.8, 15,1.7, 15.5,1, 16,0.3, 16.5,-0.4, 17,-1.1, 17.2,2.2, 17.5,1.8, 18,1.1, 18.5,0.4, 19,-0.3, 19.5,-1, 20,-0.1, 20.5,-0.8, 21,-1.5, 21.5,-2.2, 21.7,1.2, 22,0.8, 22.5,0.1, 23,-0.6, 23.5,-1.3, 23.75,-1];
const blue40 = [0,0, 0.5,-0.8, 1,-1.6, 1.5,-2.4, 2,-3.2, 2.2,-0.9, 2.5,-1.4, 3,-2.2, 3.5,-3, 4,-3.8, 4.5,-4.6, 5,-5.4, 5.2,-2.1, 5.5,-2.6, 6,-3.4, 6.5,-4.2, 7,-5, 7.5,-4, 8,-4.8, 8.5,-5.6, 9,-6.4, 9.2,-3.3, 9.5,-3.8, 10,-4.6, 10.5,-5.4, 11,-6.2, 11.5,-5.2, 12,-6, 12.5,-6.8, 13,-7.6, 13.2,-3.2, 13.5,-3.7, 14,-4.5, 14.5,-5.3, 15,-6.1, 15.5,-6.9, 16,-7.7, 16.2,-4.5, 16.5,-5, 17,-5.8, 17.5,-6.6, 18,-7.4, 18.5,-8.2, 19,-7.2, 19.5,-8, 20,-8.8, 20.5,-9.6, 20.7,-4, 21,-4.5, 21.5,-5.3, 22,-6.1, 22.2,1.5, 22.5,1, 23,0.2, 23.2,8.5, 23.5,8, 23.75,9];

// drawing order and colour names (styles kept separate from data)
const seriesData = [
  cyanLow, magentaLow, yellowLow, lightBlueLow, navyLow, navyMid,
  magenta18, green26, blue23, cyan24, magenta25, yellow20, green19, magenta29, magenta14,
  cyanFlat, cyan13, blue15, blue12, green11, yellow10, navy9, green37, cyanJump, blue40,
  darkRed16, red27, navy39, lightBlue7, red8, blue5, darkRed2, blue28, red3, darkRed1,
  darkRed35, red1, lightBlueUpper, greenTop, blackLine, yellowTop, redSecond, lightBlueTop, redTop,
];
const seriesColorKeys = [
  "cyan", "magenta", "yellow", "lightblue", "navy", "navy",
  "magenta", "green", "blue", "cyan", "magenta", "yellow", "green", "magenta", "magenta",
  "cyan", "cyan", "blue", "blue", "green", "yellow", "navy", "green", "cyan", "blue",
  "darkred", "red", "navy", "lightblue", "red", "blue", "darkred", "blue", "red", "darkred",
  "darkred", "red", "lightblue", "green", "black", "yellow", "red", "lightblue", "red",
];
const palette: Record<string, string> = {
  red: "#ff0000", darkred: "#b80000", black: "#000000", blue: "#0000ff",
  lightblue: "#5555ff", navy: "#0000a8", yellow: "#ffff00", green: "#00a000",
  cyan: "#40ffff", magenta: "#ff55ff",
};

function toPairs(a: number[]): [number, number][] {
  const out: [number, number][] = [];
  for (let i = 0; i + 1 < a.length; i += 2) out.push([a[i], a[i + 1]]);
  return out;
}

export default function App() {
  const W = 640, H = 480;
  const left = 51, right = 621, top = 32, bottom = 446;
  const x = d3.scaleLinear().domain(xDomain).range([left, right]);
  const y = d3.scaleLinear().domain(yDomain).range([bottom, top]);
  const line = d3.line<[number, number]>().x(d => x(d[0])).y(d => y(d[1]));
  const font = "'DejaVu Sans Mono', monospace";
  const tick = 5;

  return (
    <svg width={W} height={H} style={{ position: "absolute", left: 0, top: 0, background: "#fff" }}
      fontFamily={font}>
      <rect x={0} y={0} width={W} height={H} fill="#fff" />
      <defs>
        <clipPath id="plotclip">
          <rect x={left} y={top} width={right - left} height={bottom - top} />
        </clipPath>
      </defs>
      <g clipPath="url(#plotclip)">
        {seriesData.map((s, i) => (
          <path key={i} d={line(toPairs(s)) || ""} fill="none"
            stroke={palette[seriesColorKeys[i]]} strokeWidth={1} shapeRendering="crispEdges" />
        ))}
      </g>
      {/* frame */}
      <rect x={left + 0.5} y={top + 0.5} width={right - left - 1} height={bottom - top - 1}
        fill="none" stroke="#000" strokeWidth={1} />
      {/* x ticks (bottom and top, inward) */}
      {xTickValues.map(v => {
        const px = Math.round(x(v)) + 0.5;
        return (
          <g key={"xt" + v}>
            <line x1={px} x2={px} y1={bottom} y2={bottom - tick} stroke="#000" />
            <line x1={px} x2={px} y1={top} y2={top + tick} stroke="#000" />
            <text x={x(v)} y={463} textAnchor="middle" fontSize={10.5} fill="#000">{v}</text>
          </g>
        );
      })}
      {/* y ticks (left and right, inward) */}
      {yTickValues.map(v => {
        const py = Math.round(y(v)) + 0.5;
        return (
          <g key={"yt" + v}>
            <line x1={left} x2={left + tick} y1={py} y2={py} stroke="#000" />
            <line x1={right} x2={right - tick} y1={py} y2={py} stroke="#000" />
            <text x={44} y={y(v) + 4} textAnchor="end" fontSize={10.5} fill="#000">{v}</text>
          </g>
        );
      })}
      <text x={335} y={19} textAnchor="middle" fontSize={11} fill="#000">Cumulative Z-Squared Value</text>
      <text x={335} y={477} textAnchor="middle" fontSize={11} fill="#000">Hour of Day</text>
      <text transform={`translate(16,${(top + bottom) / 2}) rotate(-90)`} textAnchor="middle"
        fontSize={11} fill="#000">Cumulative (Z*Z)-1</text>
    </svg>
  );
}
